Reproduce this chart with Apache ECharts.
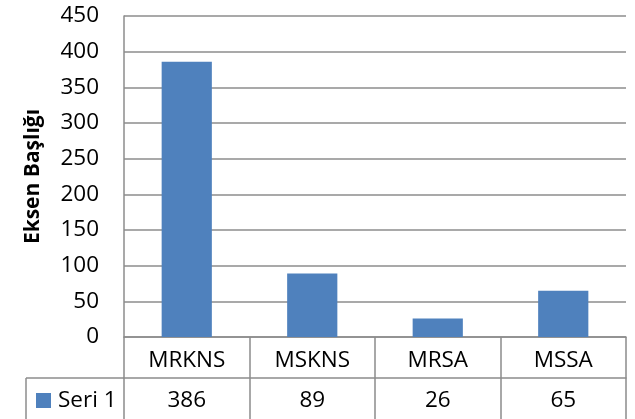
<!DOCTYPE html>
<html>
<head>
<meta charset="utf-8">
<script src="https://cdn.jsdelivr.net/npm/echarts@6/dist/echarts.min.js"></script>
<style>
  html, body { margin: 0; padding: 0; background: #ffffff; }
  #chart { width: 635px; height: 419px; }
</style>
</head>
<body>
<div id="chart"></div>
<script>
// Categories and values for the single series
const categories = ['MRKNS', 'MSKNS', 'MRSA', 'MSSA'];
const seri1 = [386, 89, 26, 65];
const seriesName = 'Seri 1';
const axisTitle = 'Eksen Başlığı';
const yMin = 0, yMax = 450, yStep = 50;

const FONT = '"Open Sans", "Liberation Sans", sans-serif';
const GRID_COLOR = '#8c8c8c';
const BAR_COLOR = '#4f81bd';
const FS = 22.5;

const chart = echarts.init(document.getElementById('chart'), null, { renderer: 'canvas' });

chart.setOption({
  animation: false,
  backgroundColor: '#ffffff',
  textStyle: { fontFamily: FONT },
  grid: { left: 124, right: 9, top: 16, bottom: 82, containLabel: false },
  legend: {
    data: [seriesName],
    left: 31, top: 384,
    icon: 'rect', itemWidth: 15, itemHeight: 15, itemGap: 6,
    textStyle: { fontFamily: FONT, fontSize: FS, color: '#000', padding: [0, 0, 0, 2] }
  },
  xAxis: [
    {
      // category row of the data table
      type: 'category',
      data: categories,
      position: 'bottom',
      axisLine: { show: true, lineStyle: { color: GRID_COLOR, width: 1.5 } },
      axisTick: { show: true, alignWithLabel: false, length: 90, lineStyle: { color: GRID_COLOR, width: 1.5 } },
      axisLabel: { color: '#000', fontSize: FS, fontFamily: FONT, margin: 12 },
      splitLine: { show: false }
    },
    {
      // value row of the data table
      type: 'category',
      data: seri1.map(String),
      position: 'bottom',
      offset: 41,
      axisLine: { show: true, lineStyle: { color: GRID_COLOR, width: 1.5 } },
      axisTick: { show: false },
      axisLabel: { color: '#000', fontSize: FS, fontFamily: FONT, margin: 11 },
      splitLine: { show: false }
    }
  ],
  yAxis: {
    type: 'value',
    min: yMin, max: yMax, interval: yStep,
    name: axisTitle,
    nameLocation: 'middle',
    nameRotate: 90,
    nameGap: 80,
    nameTextStyle: { fontFamily: FONT, fontSize: 21, fontWeight: 'bold', color: '#000' },
    axisLine: { show: true, lineStyle: { color: GRID_COLOR, width: 1.5 } },
    axisTick: { show: false },
    axisLabel: { color: '#000', fontSize: FS, fontFamily: FONT, margin: 25 },
    splitLine: { show: true, lineStyle: { color: GRID_COLOR, width: 1.5 } }
  },
  series: [{
    name: seriesName,
    type: 'bar',
    xAxisIndex: 0,
    data: seri1,
    barWidth: '40%',
    itemStyle: { color: BAR_COLOR },
    silent: true
  }],
  graphic: [
    // legend cell borders of the data table
    { type: 'line', shape: { x1: 26, y1: 378, x2: 124, y2: 378 }, style: { stroke: GRID_COLOR, lineWidth: 1.5 } },
    { type: 'line', shape: { x1: 26, y1: 378, x2: 26, y2: 425 }, style: { stroke: GRID_COLOR, lineWidth: 1.5 } }
  ]
});
</script>
</body>
</html>
